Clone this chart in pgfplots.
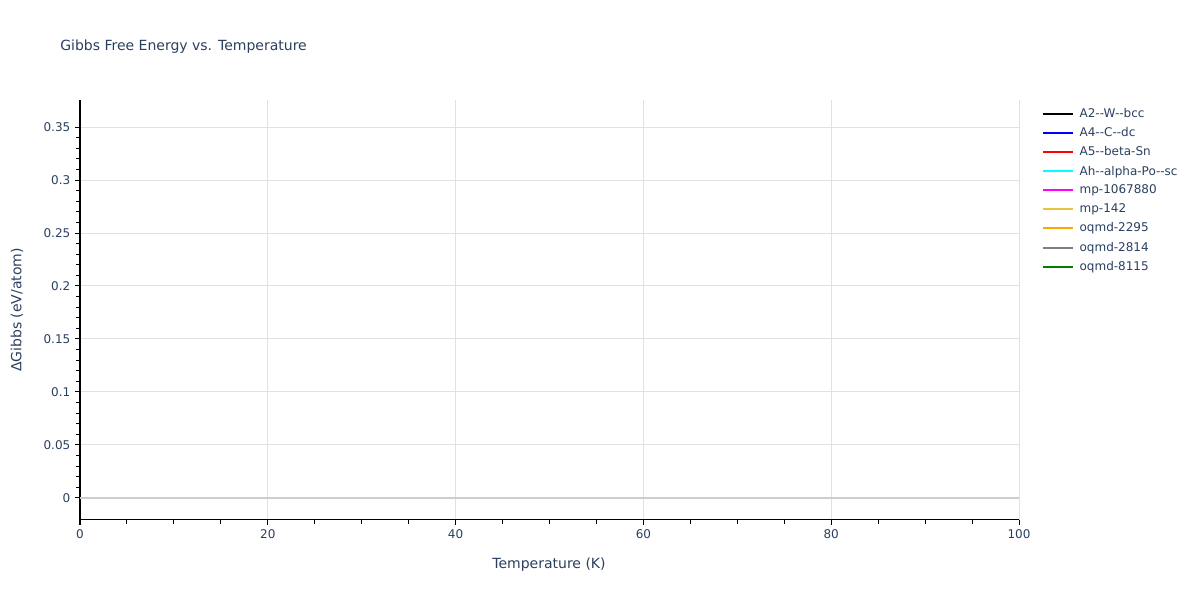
\documentclass[border=0pt]{standalone}
\usepackage{pgfplots}
\pgfplotsset{compat=1.18}
\usepackage{fontspec}
\setmainfont{DejaVu Sans}
\definecolor{txt}{RGB}{42,63,95}
\definecolor{gridc}{RGB}{225,225,225}
\definecolor{zeroc}{RGB}{205,205,205}
\definecolor{bluec}{RGB}{0,0,255}
\definecolor{redc}{RGB}{255,0,0}
\definecolor{cyanc}{RGB}{0,255,255}
\definecolor{magentac}{RGB}{255,0,255}
\definecolor{goldc}{RGB}{235,195,60}
\definecolor{orangec}{RGB}{255,165,0}
\definecolor{grayc}{RGB}{128,128,128}
\definecolor{greenc}{RGB}{0,128,0}
% 1 px = 0.75 pt, picture 1200 x 600 px
\begin{document}
\begin{tikzpicture}
\path (0,0) rectangle (900pt,450pt);
\node[anchor=west, inner sep=0pt, text=txt, font=\fontsize{10.5}{12}\selectfont] at (45pt,414.75pt) {Gibbs Free Energy vs. Temperature};
\node[text=txt, font=\fontsize{10.5}{12}\selectfont] at (411.75pt,26.25pt) {Temperature (K)};
\node[text=txt, rotate=90, font=\fontsize{10.5}{12}\selectfont] at (12.75pt,217.5pt) {ΔGibbs (eV/atom)};
\begin{axis}[
    at={(60pt,60pt)}, anchor=south west,
    scale only axis,
    width=704.25pt, height=315pt,
    xmin=0, xmax=100,
    ymin=-0.0208, ymax=0.3755,
    axis x line*=bottom, axis y line*=left,
    axis line style={black, line width=0.75pt, -},
    xtick={0,20,40,60,80,100},
    ytick={0,0.05,0.1,0.15,0.2,0.25,0.3,0.35},
    yticklabels={0,0.05,0.1,0.15,0.2,0.25,0.3,0.35},
    minor x tick num=3, minor y tick num=4,
    tick align=outside,
    major tick length=3.75pt, minor tick length=3pt,
    tick style={black, line width=0.75pt},
    xmajorgrids, ymajorgrids,
    major grid style={gridc, line width=0.75pt},
    /pgf/number format/assume math mode=true,
    ticklabel style={text=txt, font=\fontsize{9}{10}\selectfont},
    clip=false,
    legend style={at={(1.0245,0.985)}, anchor=north west, draw=none, fill=none,
        font=\fontsize{9}{10}\selectfont, text=txt, row sep=3pt,
        inner sep=0pt, nodes={inner sep=1.5pt}},
    legend cell align=left,
    legend image code/.code={\draw[#1, line width=1.5pt] (0pt,0pt) -- (22pt,0pt);},
]
\addplot[zeroc, line width=1.5pt, forget plot] coordinates {(0,0) (100,0)};
\addlegendimage{black}
\addlegendentry{\hspace{3pt}A2-{}-W-{}-bcc}
\addlegendimage{bluec}
\addlegendentry{\hspace{3pt}A4-{}-C-{}-dc}
\addlegendimage{redc}
\addlegendentry{\hspace{3pt}A5-{}-beta-Sn}
\addlegendimage{cyanc}
\addlegendentry{\hspace{3pt}Ah-{}-alpha-Po-{}-sc}
\addlegendimage{magentac}
\addlegendentry{\hspace{3pt}mp-1067880}
\addlegendimage{goldc}
\addlegendentry{\hspace{3pt}mp-142}
\addlegendimage{orangec}
\addlegendentry{\hspace{3pt}oqmd-2295}
\addlegendimage{grayc}
\addlegendentry{\hspace{3pt}oqmd-2814}
\addlegendimage{greenc}
\addlegendentry{\hspace{3pt}oqmd-8115}
\end{axis}
\end{tikzpicture}
\end{document}
